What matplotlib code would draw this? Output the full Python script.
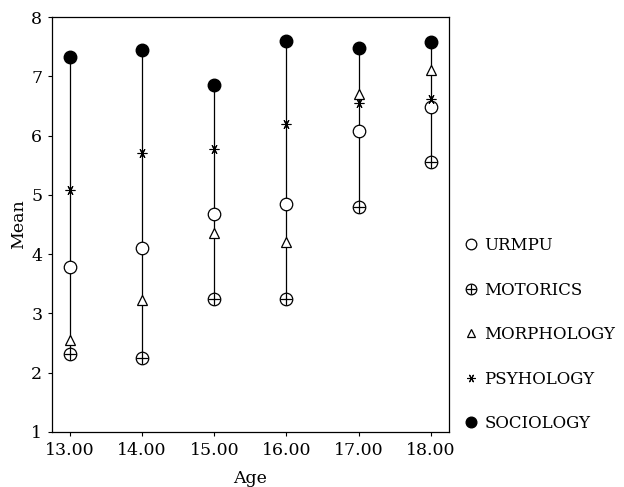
import numpy as np
import matplotlib.pyplot as plt

# 年齢ごとの平均値
ages = [13, 14, 15, 16, 17, 18]
urmpu = [3.78, 4.10, 4.67, 4.85, 6.08, 6.48]
motorics = [2.32, 2.25, 3.25, 3.25, 4.80, 5.55]
morphology = [2.55, 3.22, 4.35, 4.20, 6.70, 7.10]
psyhology = [5.08, 5.70, 5.77, 6.20, 6.55, 6.62]
sociology = [7.33, 7.45, 6.85, 7.60, 7.47, 7.58]

plt.rcParams['font.family'] = 'DejaVu Serif'
plt.rcParams['font.size'] = 12.5

fig = plt.figure(figsize=(6.24, 4.87), dpi=100)
ax = fig.add_axes([0.0833, 0.113, 0.636, 0.852])

allv = np.array([urmpu, motorics, morphology, psyhology, sociology])
ax.vlines(ages, allv.min(axis=0), allv.max(axis=0), color='black', lw=0.9, zorder=1)

h_u, = ax.plot(ages, urmpu, 'o', ms=9, mfc='white', mec='black', mew=0.9, ls='none', zorder=3)
h_m1, = ax.plot(ages, motorics, 'o', ms=9, mfc='white', mec='black', mew=0.9, ls='none', zorder=3)
h_m2, = ax.plot(ages, motorics, '+', ms=9, mec='black', mew=0.9, ls='none', zorder=4)
h_mo, = ax.plot(ages, morphology, '^', ms=6.5, mfc='white', mec='black', mew=0.9, ls='none', zorder=3)
h_p, = ax.plot(ages, psyhology, marker=(6, 2, 90), ms=7, mec='black', mew=0.8, ls='none', zorder=3)
h_s, = ax.plot(ages, sociology, 'o', ms=9, mfc='black', mec='black', ls='none', zorder=3)

ax.set_xlim(12.75, 18.25)
ax.set_ylim(1, 8)
ax.set_xticks(ages)
ax.set_xticklabels(['%.2f' % a for a in ages])
ax.set_yticks(range(1, 9))
ax.tick_params(direction='out', length=3, width=0.8, pad=4)
for s in ax.spines.values():
    s.set_linewidth(0.9)

ax.set_xlabel('Age', labelpad=8)
ax.set_ylabel('Mean', labelpad=3)

fig.legend([h_u, (h_m1, h_m2), h_mo, h_p, h_s],
           ['URMPU', 'MOTORICS', 'MORPHOLOGY', 'PSYHOLOGY', 'SOCIOLOGY'],
           loc='center left', bbox_to_anchor=(0.72, 0.313), frameon=False,
           fontsize=12, markerscale=0.85, handlelength=0.8, handletextpad=0.4,
           labelspacing=1.65)

fig.savefig('out.png', dpi=100)
